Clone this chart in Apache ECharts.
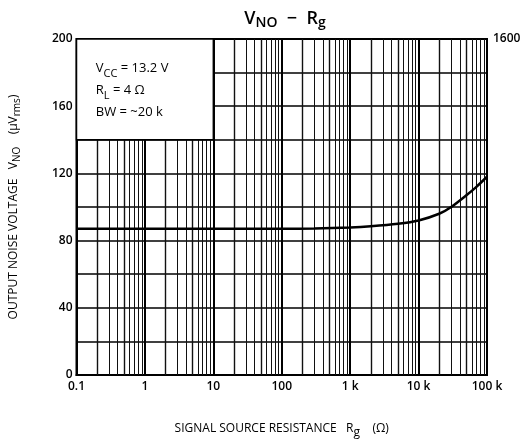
<!DOCTYPE html>
<html>
<head>
<meta charset="utf-8">
<script src="https://cdn.jsdelivr.net/npm/echarts@6/dist/echarts.min.js"></script>
<style>html,body{margin:0;padding:0;background:#fff}#c{width:530px;height:444px}</style>
</head>
<body>
<div id="c"></div>
<script>
// Data
var rgOhm = [0.1, 1, 10, 100, 300, 1000, 2000, 5000, 10000, 20000, 30000, 50000, 70000, 100000];
var vnoUv = [87, 87, 87, 87, 87.2, 87.8, 88.5, 90, 92, 96, 100, 107, 112, 118];
var xTickValues = [0.1, 1, 10, 100, 1000, 10000, 100000];
var xTickLabels = ['0.1', '1', '10', '100', '1 k', '10 k', '100 k'];
var yTickLabels = [0, 40, 80, 120, 160, 200];
var decades = [0.1, 1, 10, 100, 1000, 10000];
var multipliers = [2, 3, 4, 5, 6, 7, 8, 9];
var rightAxisLabel = 1600;

var FONT = 'Open Sans';
var vLines = [];
decades.forEach(function (d, i) {
  if (i > 0) vLines.push({xAxis: d, lineStyle: {type: 'solid', width: 2, color: '#000'}});
  multipliers.forEach(function (m) {
    vLines.push({xAxis: +(d * m).toPrecision(6), lineStyle: {type: 'solid', width: (m === 2 || m === 5) ? 1.4 : 1, color: '#111'}});
  });
});

var chart = echarts.init(document.getElementById('c'));
chart.setOption({
  backgroundColor: '#fff',
  animation: false,
  title: {
    text: 'V{s|NO}  −  R{s|g}',
    left: 280, top: 2, textAlign: 'center',
    textStyle: {fontFamily: FONT, fontSize: 18, fontWeight: 600, color: '#000',
      rich: {s: {fontFamily: FONT, fontSize: 14, fontWeight: 600, verticalAlign: 'bottom', padding: [9, 0, 0, 0]}}}
  },
  grid: {left: 76, right: 43, top: 39, bottom: 63, show: true, borderColor: '#000', borderWidth: 2, backgroundColor: 'transparent'},
  xAxis: {
    type: 'log', logBase: 10, min: 0.1, max: 100000,
    axisLine: {show: true, lineStyle: {color: '#000', width: 2}},
    axisTick: {show: false},
    splitLine: {show: false},
    axisLabel: {fontFamily: FONT, fontSize: 12, fontWeight: 600, color: '#000', margin: 6,
      formatter: function (v) { var i = xTickValues.findIndex(function (t) { return Math.abs(t - v) / t < 1e-6; }); return i >= 0 ? xTickLabels[i] : ''; }},
    name: 'SIGNAL SOURCE RESISTANCE   R{s|g}    (Ω)',
    nameLocation: 'middle', nameGap: 44,
    nameTextStyle: {fontFamily: FONT, fontSize: 12, fontWeight: 500, color: '#000',
      rich: {s: {fontFamily: FONT, fontSize: 12, verticalAlign: 'bottom', padding: [8, 0, 0, 0]}}}
  },
  yAxis: [{
    type: 'value', min: 0, max: 200, interval: 20,
    axisLine: {show: true, lineStyle: {color: '#000', width: 2}},
    axisTick: {show: false},
    splitLine: {show: true, lineStyle: {type: 'solid', color: '#000', width: 1.5}},
    axisLabel: {fontFamily: FONT, fontSize: 12, fontWeight: 600, color: '#000', margin: 4,
      formatter: function (v) { return yTickLabels.indexOf(v) >= 0 ? String(v) : ''; }},
    name: 'OUTPUT NOISE VOLTAGE   V{s|NO}    (μV{s|rms})',
    nameLocation: 'middle', nameGap: 54, nameRotate: 90,
    nameTextStyle: {fontFamily: FONT, fontSize: 12, fontWeight: 500, color: '#000',
      rich: {s: {fontFamily: FONT, fontSize: 10, verticalAlign: 'bottom', padding: [7, 0, 0, 0]}}}
  }, {
    type: 'value', min: 0, max: rightAxisLabel, interval: rightAxisLabel, position: 'right',
    axisLine: {show: false}, axisTick: {show: false}, splitLine: {show: false},
    axisLabel: {fontFamily: FONT, fontSize: 12, fontWeight: 600, color: '#000', margin: 6,
      formatter: function (v) { return v === rightAxisLabel ? String(v) : ''; }}
  }],
  series: [{
    type: 'line', data: [], z: 1, silent: true,
    markLine: {silent: true, symbol: 'none', label: {show: false}, animation: false, z: 1, data: vLines}
  }, {
    type: 'line', data: [], z: 5, silent: true,
    markArea: {silent: true, z: 10,
      itemStyle: {color: '#fff', borderColor: '#000', borderWidth: 1.5},
      label: {show: true, position: 'insideTopLeft', distance: 0, padding: [19, 0, 0, 20], color: '#000', fontFamily: FONT, fontSize: 13, fontWeight: 500, lineHeight: 22,
        formatter: 'V{s|CC} = 13.2 V\nR{s|L} = 4 Ω\nBW = ~20 k',
        rich: {s: {fontFamily: FONT, fontSize: 11, fontWeight: 500, verticalAlign: 'bottom', padding: [7, 0, 0, 0], lineHeight: 22}}},
      data: [[{coord: [0.1, 200]}, {coord: [10, 140]}]]}
  }, {
    type: 'line', z: 12, smooth: 0.25, symbol: 'none',
    lineStyle: {color: '#000', width: 2.5},
    data: rgOhm.map(function (x, i) { return [x, vnoUv[i]]; })
  }]
});
</script>
</body>
</html>
